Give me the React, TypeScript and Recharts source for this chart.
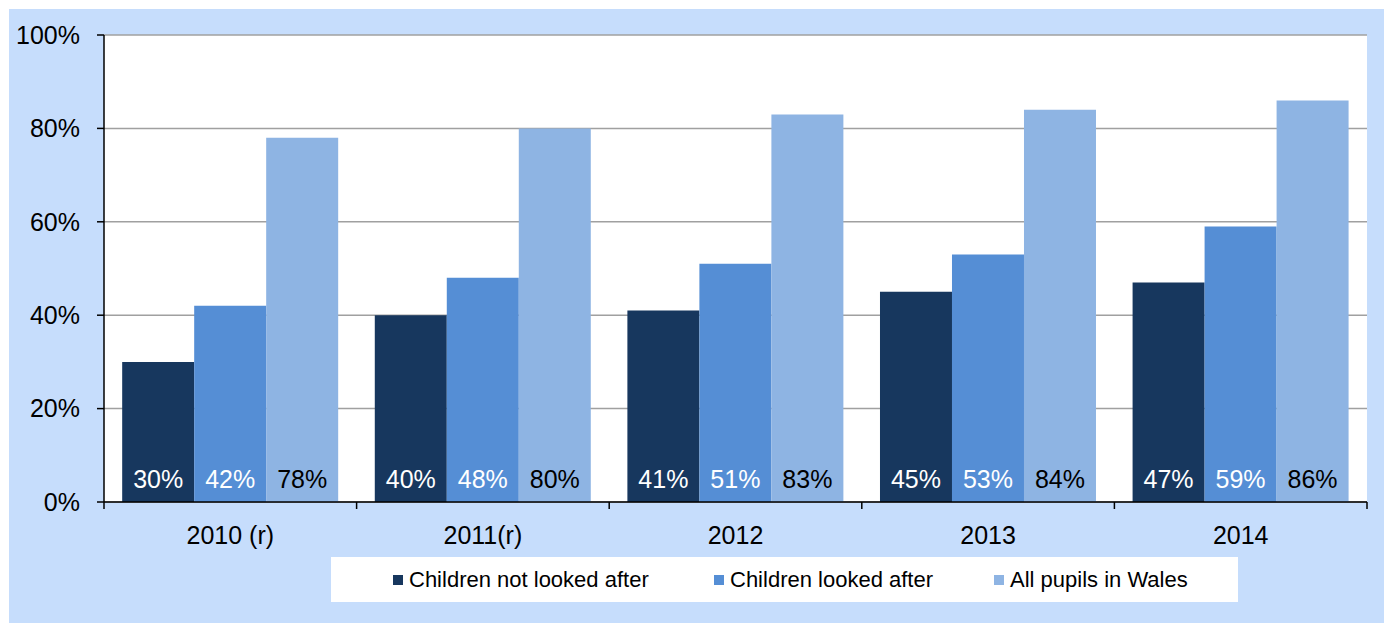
import React from "react";
import {
  BarChart,
  Bar,
  XAxis,
  YAxis,
  CartesianGrid,
  LabelList,
} from "recharts";

const years = ["2010 (r)", "2011(r)", "2012", "2013", "2014"];
const notLookedAfter = [30, 40, 41, 45, 47];
const lookedAfter = [42, 48, 51, 53, 59];
const allPupils = [78, 80, 83, 84, 86];
const yTicks = [0, 20, 40, 60, 80, 100];

const series = [
  { key: "notLookedAfter", name: "Children not looked after", color: "#17375E", labelColor: "#ffffff" },
  { key: "lookedAfter", name: "Children looked after", color: "#558ED5", labelColor: "#ffffff" },
  { key: "allPupils", name: "All pupils in Wales", color: "#8EB4E3", labelColor: "#000000" },
];

const data = years.map((year, i) => ({
  year,
  notLookedAfter: notLookedAfter[i],
  lookedAfter: lookedAfter[i],
  allPupils: allPupils[i],
}));

const W = 1384;
const H = 623;
const FONT = "'Liberation Sans', Arial, sans-serif";
const Y_AXIS_W = 104;
const MARGIN = { top: 35, right: 17, left: 0, bottom: 61 };
const PLOT_W = W - MARGIN.left - MARGIN.right - Y_AXIS_W;
const BAND = PLOT_W / years.length;
const TICK_SIZE = 7;
const TICK_MARGIN = 17;
// left edge of each legend entry inside the legend box
const LEGEND_X = [62, 383, 663];

// category label plus tick marks on the band boundaries
const XTick = (props: any) => {
  const { x, y, payload, index } = props;
  const axisY = y - TICK_SIZE - TICK_MARGIN;
  const half = BAND / 2;
  return (
    <g>
      <line x1={x - half} x2={x - half} y1={axisY} y2={axisY + TICK_SIZE} stroke="#000" strokeWidth={1.5} />
      {index === years.length - 1 && (
        <line x1={x + half} x2={x + half} y1={axisY} y2={axisY + TICK_SIZE} stroke="#000" strokeWidth={1.5} />
      )}
      <text x={x} y={y} dy="0.71em" textAnchor="middle" fontSize={25} fill="#000" fontFamily={FONT}>
        {payload.value}
      </text>
    </g>
  );
};

export default function App() {
  return (
    <div
      style={{
        position: "absolute",
        left: 0,
        top: 0,
        width: W,
        height: H,
        overflow: "hidden",
        background: "#fff",
        fontFamily: FONT,
      }}
    >
      <div style={{ position: "absolute", left: 9, top: 9, width: W - 9, height: H - 9, background: "#C6DDFC" }} />
      <div style={{ position: "absolute", left: Y_AXIS_W, top: MARGIN.top, width: PLOT_W, height: 467, background: "#fff" }} />
      <div style={{ position: "absolute", left: 0, top: 0 }}>
        <BarChart
          width={W}
          height={H}
          data={data}
          margin={MARGIN}
          barCategoryGap="7.2%"
          barGap={0}
        >
          <CartesianGrid vertical={false} stroke="#a0a0a0" strokeWidth={1.5} />
          <XAxis
            dataKey="year"
            height={60}
            tickSize={TICK_SIZE}
            tickMargin={TICK_MARGIN}
            tickLine={false}
            tick={<XTick />}
            axisLine={{ stroke: "#000", strokeWidth: 1.5 }}
            interval={0}
          />
          <YAxis
            width={Y_AXIS_W}
            domain={[0, 100]}
            ticks={yTicks}
            tickFormatter={(v: number) => `${v}%`}
            tickSize={TICK_SIZE}
            tickMargin={TICK_MARGIN}
            tick={{ fontSize: 25, fill: "#000", fontFamily: FONT }}
            tickLine={{ stroke: "#000", strokeWidth: 1.5 }}
            axisLine={{ stroke: "#000", strokeWidth: 1.5 }}
          />
          {series.map((s) => (
            <Bar key={s.key} dataKey={s.key} name={s.name} fill={s.color} isAnimationActive={false}>
              <LabelList
                dataKey={s.key}
                position="insideBottom"
                offset={14}
                formatter={(v: any) => `${v}%`}
                fill={s.labelColor}
                fontSize={25}
                fontFamily={FONT}
              />
            </Bar>
          ))}
        </BarChart>
      </div>
      <div
        style={{
          position: "absolute",
          left: 331,
          top: 557,
          width: 907,
          height: 45,
          background: "#fff",
          fontSize: 22,
          color: "#000",
        }}
      >
        {series.map((s, i) => (
          <div
            key={s.key}
            style={{
              position: "absolute",
              left: LEGEND_X[i],
              top: 0,
              height: 45,
              display: "flex",
              alignItems: "center",
              whiteSpace: "nowrap",
            }}
          >
            <span style={{ width: 10, height: 10, background: s.color, marginRight: 6, display: "inline-block" }} />
            <span>{s.name}</span>
          </div>
        ))}
      </div>
    </div>
  );
}
